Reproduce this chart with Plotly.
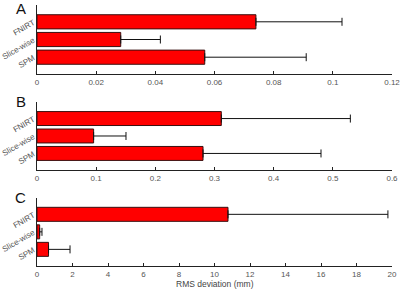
import plotly.graph_objects as go

methods = ["SPM", "Slice-wise", "FNIRT"]
a_vals = [0.0567, 0.0283, 0.0740]
a_upper = [0.0910, 0.0417, 0.1031]
b_vals = [0.2806, 0.0957, 0.3115]
b_upper = [0.4800, 0.1504, 0.5296]
c_vals = [0.65, 0.15, 10.76]
c_upper = [1.86, 0.28, 19.77]
panel_labels = ["A", "B", "C"]
x_ranges = [[0, 0.12], [0, 0.6], [0, 20]]
x_dticks = [0.02, 0.1, 2]

panels = [(a_vals, a_upper), (b_vals, b_upper), (c_vals, c_upper)]
domains = [[0.7356, 1.0], [0.3678, 0.6284], [0.0, 0.2617]]
label_y = [0.9885, 0.630, 0.264]

fig = go.Figure()
font = "Liberation Sans, Arial, sans-serif"
for i, (vals, upper) in enumerate(panels):
    n = i + 1
    fig.add_trace(go.Bar(
        y=methods, x=vals, orientation="h",
        marker=dict(color="#ff0000", line=dict(color="#3a1010", width=1)),
        width=0.8,
        error_x=dict(type="data", symmetric=False,
                     array=[u - v for u, v in zip(upper, vals)],
                     arrayminus=[0, 0, 0],
                     color="#111111", thickness=1, width=4),
        xaxis="x" if n == 1 else f"x{n}",
        yaxis="y" if n == 1 else f"y{n}",
        showlegend=False,
    ))
    xa = dict(range=x_ranges[i], dtick=x_dticks[i], ticks="inside", ticklen=3,
              tickcolor="#222", showline=True, linecolor="#222", linewidth=1,
              showgrid=False, zeroline=False, automargin=False,
              ticklabeloverflow="allow",
              tickfont=dict(size=8, color="#555", family=font),
              anchor="y" if n == 1 else f"y{n}")
    ya = dict(domain=domains[i], type="category", categoryorder="array",
              categoryarray=methods, range=[-0.95, 2.95], showline=True,
              linecolor="#222", linewidth=1, ticks="", showgrid=False,
              automargin=False, ticklabelstandoff=1, ticklabeloverflow="allow",
              tickangle=-30, tickfont=dict(size=8, color="#555", family=font),
              anchor="x" if n == 1 else f"x{n}")
    fig.update_layout(**{("xaxis" if n == 1 else f"xaxis{n}"): xa,
                         ("yaxis" if n == 1 else f"yaxis{n}"): ya})
    fig.add_annotation(text=panel_labels[i], xref="paper", yref="paper",
                       x=-0.025, y=label_y[i], xanchor="right", yanchor="middle",
                       showarrow=False, font=dict(size=15, color="#111", family=font))

fig.add_annotation(text="RMS deviation (mm)", xref="paper", yref="paper",
                   x=0.5, y=-0.07, xanchor="center", yanchor="middle",
                   showarrow=False, font=dict(size=8.5, color="#444", family=font))

fig.update_layout(width=400, height=291, margin=dict(l=37, r=8, t=5, b=25),
                  plot_bgcolor="white", paper_bgcolor="white", bargap=0.2)
fig.write_html("out.html", config={"displayModeBar": False},
               post_script="document.body.style.margin='0px';document.body.style.overflow='hidden';")
